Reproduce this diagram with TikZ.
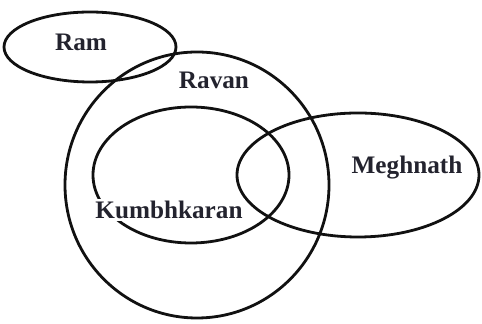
\documentclass[tikz,border=0pt]{standalone}
\usepackage{fontspec}
\setmainfont{Liberation Serif}
\usepackage{tikz}
\usepackage{xcolor}
\usetikzlibrary{positioning}
\definecolor{cInk}   {HTML}{111111}
\definecolor{cLabel} {HTML}{23232E}

\begin{document}
\begin{tikzpicture}[x=0.5pt, y=-0.5pt,
    setline/.style={draw=cInk, line width=1.4pt},
    setname/.style={font=\bfseries\fontsize{12.6}{14}\selectfont, text=cLabel, inner sep=1pt}]
  \useasboundingbox (0,0) rectangle (482,324);
  % the four sets
  \draw[setline] (90,47) ellipse [x radius=86, y radius=35];
  \draw[setline] (197,185) circle [x radius=132, y radius=133];
  \draw[setline] (191,175) ellipse [x radius=98, y radius=68];
  \draw[setline] (358,175) ellipse [x radius=121, y radius=62];
  % names
  \node[setname] (ram) at (81,42) {Ram};
  \node[setname] (ravan) at (214,80) {Ravan};
  \node[setname] (meghnath) at (407,168) {Meghnath};
  \node[setname, fill=white] (kumbhkaran) at (169,210) {Kumbhkaran};
\end{tikzpicture}
\end{document}
